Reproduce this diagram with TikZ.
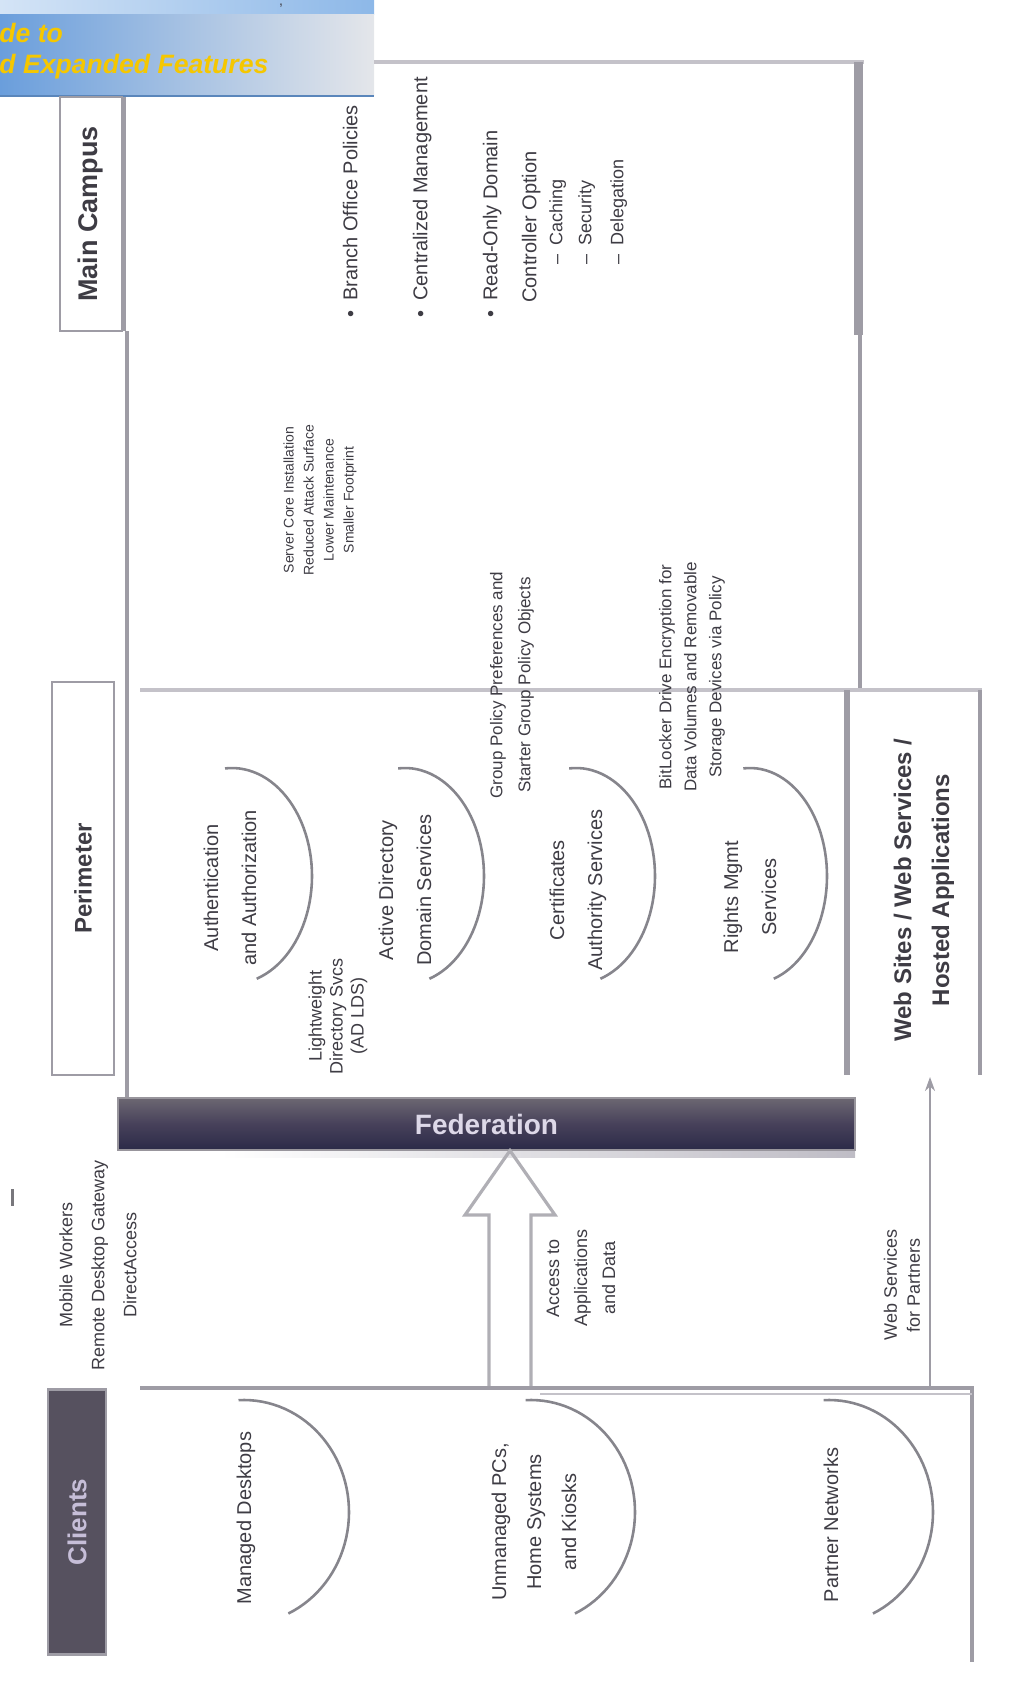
\documentclass[tikz,border=0pt]{standalone}
\usepackage{fontspec}
\setmainfont{Liberation Sans}
\usetikzlibrary{arrows.meta}

\definecolor{frame}{HTML}{9E9CA5}
\definecolor{framelt}{HTML}{C4C2C9}
\definecolor{ink}{HTML}{3E3C44}
\definecolor{hdrA}{HTML}{6A9EDC}
\definecolor{hdrB}{HTML}{E4E6EA}
\definecolor{stripA}{HTML}{D4E4F6}
\definecolor{stripB}{HTML}{8DB8E8}
\definecolor{gold}{HTML}{F5C700}
\definecolor{barTop}{HTML}{6C6772}
\definecolor{barMid}{HTML}{47415A}
\definecolor{barBot}{HTML}{2B2A48}
\definecolor{boxDark}{HTML}{56515F}
\definecolor{boxText}{HTML}{C6BED8}

\newcommand{\txsize}[2]{\fontsize{#1}{#2}\selectfont}

\begin{document}
\begin{tikzpicture}[x=0.5pt,y=-0.5pt,
  rule/.style={draw=frame,line width=1.6pt},
  rulelt/.style={draw=framelt,line width=2.2pt},
  arcline/.style={draw=frame!85!black,line width=1.3pt},
  lbl/.style={rotate=90,inner sep=0pt,text=ink,align=center,font=\txsize{10pt}{19pt}},
  small/.style={lbl,font=\txsize{9pt}{16pt}},
  item/.style={lbl,anchor=mid west,font=\txsize{10pt}{12pt}},
  subitem/.style={lbl,anchor=mid west,font=\txsize{9pt}{11pt}},
  boxlbl/.style={lbl,font=\bfseries\txsize{12pt}{19pt}},
]
\useasboundingbox (0,0) rectangle (1009,1685);

% ---- title banner ----
\shade[left color=stripA,right color=stripB] (0,0) rectangle (374,15);
\shade[left color=hdrA,right color=hdrB] (0,15) rectangle (374,96);
\draw[draw=hdrA!85!black,line width=1pt] (0,96.5) -- (374,96.5);
\node[font=\bfseries\itshape\txsize{13.3pt}{15pt},text=gold,anchor=base west,inner sep=0pt] (titleone) at (-1,43) {de to};
\node[font=\bfseries\itshape\txsize{13.3pt}{15pt},text=gold,anchor=base west,inner sep=0pt] (titletwo) at (-1,74) {d Expanded Features};
\node[font=\txsize{7pt}{8pt},text=ink,anchor=north,inner sep=0pt] (titlecomma) at (281,4) {,};

% ---- upper frame ----
\draw[rulelt] (374,62) -- (864,62);
\draw[rule,line width=4.5pt] (858,62) -- (858,335);
\draw[rule] (860,335) -- (860,690);
\draw[rule] (127,331) -- (127,1098);
\draw[rulelt] (140,690) -- (982,690);

% ---- side boxes ----
\node[boxlbl,font=\bfseries\txsize{13.5pt}{19pt},draw=frame,line width=1.4pt,
      minimum width=117pt,minimum height=31pt] (campus) at (91,214) {Main Campus};
\draw[rule] (124,97) -- (124,331);
\node[boxlbl,draw=frame,line width=1.4pt,minimum width=196.5pt,minimum height=31pt]
      (perimeter) at (83,878.5) {Perimeter};
\draw[rule,line width=2.6pt] (847,690) -- (847,1075);
\draw[rule] (980,690) -- (980,1075);
\node[boxlbl] (websites) at (924,890) {Web Sites / Web Services /\\Hosted Applications};

% ---- bullet list in the upper frame ----
\node[item] (itemA) at (352,318) {•\enspace Branch Office Policies};
\node[item] (itemB) at (422,318) {•\enspace Centralized Management};
\node[item] (itemC) at (492,318) {•\enspace Read-Only Domain};
\node[item] (itemD) at (531,303) {Controller Option};
\node[subitem] (subA) at (557,265) {–\enspace Caching};
\node[subitem] (subB) at (586,265) {–\enspace Security};
\node[subitem] (subC) at (618,265) {–\enspace Delegation};

\node[lbl,font=\txsize{7pt}{10pt}] (corenote) at (320,500)
  {Server Core Installation\\Reduced Attack Surface\\Lower Maintenance\\Smaller Footprint};

\node[lbl,font=\txsize{8.5pt}{14pt}] (gpnote) at (512,685)
  {Group Policy Preferences and\\Starter Group Policy Objects};
\node[lbl,font=\txsize{8.5pt}{12.5pt}] (bitnote) at (692,677)
  {BitLocker Drive Encryption for\\Data Volumes and Removable\\Storage Devices via Policy};

% ---- service arcs ----
\foreach \cx/\rx in {232/80,405/79,576/79,750/77}
  \draw[arcline] plot[domain=-95:72,samples=50] ({\cx+\rx*cos(\x)},{876+108*sin(\x)});
\node[lbl] (authsvc) at (230,888) {Authentication\\and Authorization};
\node[lbl] (dirsvc) at (405,890) {Active Directory\\Domain Services};
\node[lbl] (certsvc) at (578,890) {Certificates\\Authority Services};
\node[lbl] (rightsvc) at (750,897) {Rights Mgmt\\Services};
\node[lbl,font=\txsize{9pt}{10.5pt}] (ldsnote) at (338,1016) {Lightweight\\Directory Svcs\\(AD LDS)};

% ---- identity bar ----
\node[top color=barTop,bottom color=barBot,middle color=barMid,draw=barTop!70!white,line width=0.6pt,
      minimum width=368.5pt,minimum height=26pt,inner sep=0pt,
      text=boxText!60!white,font=\bfseries\txsize{14pt}{16pt}] (bar) at (486.5,1124) {Federation};
\shade[left color=white,right color=barMid!35!white] (220,1151) rectangle (855,1157);

% ---- access paths ----
\coordinate (arrowfoot) at (510,1388);
\draw[draw=framelt!90!black,line width=1.6pt,line join=miter]
  (489,1388) -- (489,1215) -- (465,1215) -- (bar.south -| arrowfoot) -- (555,1215)
  -- (531,1215) -- (531,1388);
\coordinate (webfoot) at (930,1388);
\coordinate (webtop) at (930,1077);
\draw[draw=frame,line width=1.1pt,-{Stealth[length=7pt,width=5pt]}] (webfoot) -- (webtop);

\node[small,font=\txsize{9pt}{16pt}] (mobilenote) at (98,1265) {Mobile Workers\\Remote Desktop Gateway\\DirectAccess};
\node[small,font=\txsize{9pt}{14pt}] (appnote) at (581,1278) {Access to\\Applications\\and Data};
\node[small,font=\txsize{9pt}{11.5pt}] (webnote) at (902,1285) {Web Services\\for Partners};
\draw[ink!70,line width=1.5pt] (12,1189) -- (12,1206);

% ---- client tier ----
\draw[rule] (140,1388) -- (972,1388) -- (972,1662);
\draw[rulelt,line width=1.4pt] (540,1394) -- (972,1394);
\node[rotate=90,fill=boxDark,draw=frame,line width=1.2pt,minimum width=132.5pt,minimum height=29pt,
      inner sep=0pt,text=boxText,font=\bfseries\txsize{13pt}{15pt}] (clients) at (77,1522) {Clients};

\foreach \cx/\rx in {244/105,531/104,829/104}
  \draw[arcline] plot[domain=-93:65,samples=50] ({\cx+\rx*cos(\x)},{1512+112*sin(\x)});
\node[lbl] (managed) at (246,1518) {Managed Desktops};
\node[lbl,font=\txsize{10pt}{17.5pt}] (unmanaged) at (534,1522) {Unmanaged PCs,\\Home Systems\\and Kiosks};
\node[lbl] (partners) at (831,1525) {Partner Networks};

\end{tikzpicture}
\end{document}
